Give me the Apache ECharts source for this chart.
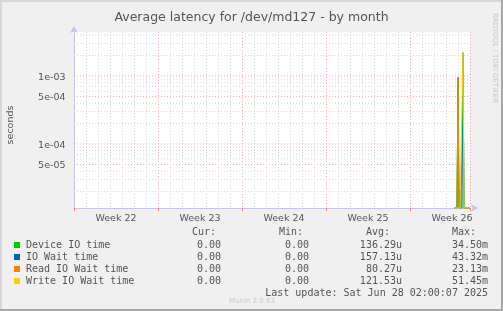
<!DOCTYPE html>
<html>
<head>
<meta charset="utf-8">
<script src="https://cdn.jsdelivr.net/npm/echarts@6/dist/echarts.min.js"></script>
<style>
html, body { margin: 0; padding: 0; background: #f0f0f0; }
#chart { width: 503px; height: 311px; }
</style>
</head>
<body>
<div id="chart"></div>
<script>
// time in hours since start of week 22, 2-hour samples (device only has data for the last day or so)
var HOURS = [760, 762, 764, 766, 768, 770, 772, 774, 776, 778, 780, 782, 784, 786, 788, 790, 792];
var NAMES = ['Device IO time', 'IO Wait time', 'Read IO Wait time', 'Write IO Wait time'];
var COLORS = ['#00cc00', '#0066b3', '#ff8000', '#ffcc00'];
var DEVICE = [0, 0, 0, 0, 9.0e-4, 0, 2.1e-5, 0, 0, 1.5e-3, 0, 0, 0, 0, 0, 0, 0];
var IOWAIT = [0, 0, 0, 0, 9.5e-4, 0, 0, 0, 0, 2.2e-3, 0, 0, 0, 0, 0, 0, 0];
var READ = [0, 0, 0, 0, 9.5e-4, 0, 0, 0, 0, 0, 0, 0, 0, 0, 0, 0, 0];
var WRITE = [0, 0, 0, 0, 0, 0, 0, 0, 0, 2.2e-3, 0, 0, 0, 0, 0, 0, 0];

var CUR = ['0.00', '0.00', '0.00', '0.00'];
var MIN = ['0.00', '0.00', '0.00', '0.00'];
var AVG = ['136.29u', '157.13u', '80.27u', '121.53u'];
var MAX = ['34.50m', '43.32m', '23.13m', '51.45m'];

var WEEKS = ['Week 22', 'Week 23', 'Week 24', 'Week 25', 'Week 26'];
var Y_MAJOR = [1e-3, 5e-4, 1e-4, 5e-5];
var Y_MAJOR_LABELS = ['1e-03', '5e-04', '1e-04', '5e-05'];
var Y_MINOR = [2e-5, 3e-5, 4e-5, 6e-5, 7e-5, 8e-5, 9e-5, 2e-4, 3e-4, 4e-4, 6e-4, 7e-4, 8e-4, 9e-4, 2e-3, 3e-3, 4e-3];

var X_MIN = 0, X_MAX = 792;
var Y_MIN = 1.146e-5;
var Y_MAX = 4.43e-3;

var SANS = 'DejaVu Sans';
var MONO = 'DejaVu Sans Mono';
var TXT = '#555555';

function pairs(vals) {
  // zero is drawn on the bottom edge like rrdtool does on a log graph
  return HOURS.map(function (h, i) {
    return [h, vals[i] > 0 ? vals[i] : Y_MIN];
  });
}

// horizontal grid: one flat line per tick value across the whole x range
function gridLine(v, color, label) {
  return {
    type: 'line',
    silent: true,
    z: 1,
    data: [[X_MIN, v], [X_MAX, v]],
    symbol: 'circle', symbolSize: 1, showSymbol: true,
    itemStyle: { color: 'rgba(0,0,0,0)', borderWidth: 0 },
    lineStyle: { color: color, type: [1, 2], width: 1 },
    label: {
      show: !!label, position: 'left', distance: 8, offset: [0, 1.5],
      color: TXT, fontFamily: SANS, fontSize: 9.5,
      formatter: function (p) { return p.dataIndex === 0 ? label : ''; }
    }
  };
}

var series = [];
Y_MINOR.forEach(function (v) { series.push(gridLine(v, '#d6d6d6', '')); });
Y_MAJOR.forEach(function (v, i) { series.push(gridLine(v, '#f0a8a8', Y_MAJOR_LABELS[i])); });

var allData = [DEVICE, IOWAIT, READ, WRITE];
var zOrder = [3, 2, 3, 3]; // io wait sits under the others, as in the munin picture
allData.forEach(function (vals, i) {
  series.push({
    name: NAMES[i],
    type: 'line',
    data: pairs(vals),
    color: COLORS[i],
    showSymbol: false,
    lineStyle: { width: 1, color: COLORS[i] },
    z: zOrder[i]
  });
});

var graphic = [];
function txt(x, y, s, align, font, color) {
  graphic.push({
    type: 'text', x: x, y: y, silent: true,
    style: { text: s, align: align, verticalAlign: 'middle', font: font || ('10px ' + MONO), fill: color || TXT }
  });
}
// column headers
txt(192, 232, 'Cur:', 'left');
txt(279, 232, 'Min:', 'left');
txt(366, 232, 'Avg:', 'left');
txt(452, 232, 'Max:', 'left');
var rowY = [245, 257, 269, 281];
for (var r = 0; r < 4; r++) {
  txt(221, rowY[r], CUR[r], 'right');
  txt(309, rowY[r], MIN[r], 'right');
  txt(402, rowY[r], AVG[r], 'right');
  txt(488, rowY[r], MAX[r], 'right');
}
txt(488, 293, 'Last update: Sat Jun 28 02:00:07 2025', 'right');
txt(252, 301, 'Munin 2.0.63', 'center', '7px ' + SANS, '#c8c8c8');
txt(11, 125, 'seconds', 'center', '9.5px ' + SANS, TXT);
graphic[graphic.length - 1].rotation = Math.PI / 2;
txt(495, 58, 'RRDTOOL / TOBI OETIKER', 'center', '7px ' + SANS, '#c8c8c8');
graphic[graphic.length - 1].rotation = -Math.PI / 2;
// frame
graphic.push({ type: 'rect', silent: true, shape: { x: 0, y: 309, width: 503, height: 2 }, style: { fill: '#a8a8a8' } });
graphic.push({ type: 'rect', silent: true, shape: { x: 501, y: 0, width: 2, height: 311 }, style: { fill: '#a8a8a8' } });
graphic.push({ type: 'rect', silent: true, shape: { x: 0, y: 0, width: 2, height: 309 }, style: { fill: '#d8d8d8' } });
graphic.push({ type: 'rect', silent: true, shape: { x: 0, y: 0, width: 501, height: 2 }, style: { fill: '#d8d8d8' } });

var AXIS_BLUE = '#c4c4ee';

var option = {
  animation: false,
  backgroundColor: '#f0f0f0',
  title: {
    text: 'Average latency for /dev/md127 - by month',
    left: 'center', top: 6,
    textStyle: { fontFamily: SANS, fontSize: 12.5, fontWeight: 'normal', color: TXT }
  },
  legend: {
    data: NAMES,
    orient: 'vertical',
    left: 14, top: 239,
    padding: 0,
    itemGap: 0,
    itemWidth: 6, itemHeight: 6,
    icon: 'rect',
    selectedMode: false,
    textStyle: { fontFamily: MONO, fontSize: 10, color: TXT, lineHeight: 12, padding: [0, 0, 0, 1] }
  },
  grid: { left: 74, right: 33, top: 32, bottom: 103, backgroundColor: '#ffffff', show: true, borderWidth: 0 },
  xAxis: [{
    type: 'value', min: X_MIN, max: X_MAX, interval: 24, position: 'bottom',
    axisLine: { show: true, onZero: false, lineStyle: { color: AXIS_BLUE }, symbol: ['none', 'arrow'], symbolSize: [6, 7], symbolOffset: [0, 8] },
    axisTick: { show: false },
    axisLabel: { show: false },
    splitLine: { show: true, lineStyle: { color: '#d6d6d6', type: [1, 2] } }
  }, {
    type: 'value', min: X_MIN, max: X_MAX, interval: 84, position: 'bottom',
    axisLine: { show: false, onZero: false }, axisTick: { show: false },
    splitLine: { show: false },
    axisLabel: {
      show: true, margin: 6, color: TXT, fontFamily: SANS, fontSize: 9.5,
      formatter: function (v) { return v % 168 === 84 ? WEEKS[Math.floor(v / 168)] : ''; }
    }
  }, {
    type: 'value', min: X_MIN, max: X_MAX, interval: 168, position: 'bottom',
    axisLine: { show: false, onZero: false },
    axisTick: { show: true, length: 3, lineStyle: { color: '#f08080' } },
    axisLabel: { show: false },
    splitLine: { show: true, lineStyle: { color: '#f0a8a8', type: [1, 2] } }
  }],
  yAxis: {
    type: 'log', logBase: 10, min: Y_MIN, max: Y_MAX,
    axisLine: { show: true, onZero: false, lineStyle: { color: AXIS_BLUE }, symbol: ['none', 'arrow'], symbolSize: [6, 7], symbolOffset: [0, 6] },
    axisTick: { show: false },
    axisLabel: { show: false },
    splitLine: { show: false }
  },
  graphic: graphic,
  series: series
};

var chart = echarts.init(document.getElementById('chart'), null, { renderer: 'canvas' });
chart.setOption(option);
</script>
</body>
</html>
